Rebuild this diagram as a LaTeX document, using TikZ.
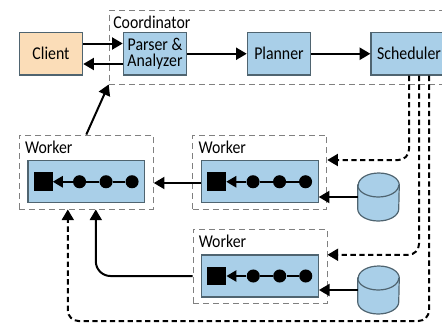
\documentclass[tikz,border=0pt]{standalone}
\usepackage{fontspec}
\setmainfont[FakeStretch=0.88]{Carlito}
\usetikzlibrary{calc,arrows.meta}

\definecolor{boxblue}{HTML}{A9CFE8}
\definecolor{boxorange}{HTML}{FBDDB8}
\definecolor{boxline}{HTML}{4F6470}
\definecolor{dashgray}{HTML}{808080}

\tikzset{
    stage/.style={draw=boxline,fill=boxblue,line width=0.9pt,minimum width=47.5pt,minimum height=32pt,inner sep=0pt,align=center,font=\fontsize{13.5}{12.5}\selectfont},
    group/.style={draw=dashgray,dashed,dash pattern=on 4.5pt off 3pt,line width=0.7pt},
    chainbox/.style={draw=boxline,fill=boxblue,line width=0.9pt,minimum height=31.5pt,inner sep=0pt},
    dot/.style={circle,fill=black,minimum size=9.8pt,inner sep=0pt},
    sink/.style={fill=black,minimum size=14.2pt,inner sep=0pt},
    store/.style={minimum width=30.75pt,minimum height=36pt,inner sep=0pt},
    storeline/.style={draw=boxline,line width=0.9pt},
    grouplabel/.style={font=\fontsize{13.5}{13.5}\selectfont,inner sep=0pt,anchor=west},
    flow/.style={line width=1.5pt,-{Triangle[length=8pt,width=9pt]}},
    link/.style={line width=1.3pt},
    request/.style={flow,dash pattern=on 4pt off 2.6pt,rounded corners=8pt},
}

\begin{document}
\begin{tikzpicture}[x=0.75pt,y=-0.75pt]
    \useasboundingbox (0,0) rectangle (442,325);

    % coordinator
    \node[group,minimum width=263pt,minimum height=55.5pt,inner sep=0pt] (coordinator) at (284.5,47) {};
    \node[grouplabel] (coordinatorlabel) at (113,22) {Coordinator};
    \node[stage,fill=boxorange] (client) at (51,53.75) {Client};
    \node[stage] (parser) at (155,53.75) {Parser \&\\Analyzer};
    \node[stage] (planner) at (279,53.75) {Planner};
    \node[stage,minimum width=57pt] (scheduler) at (409,53.75) {Scheduler};

    % workers
    \foreach \w/\bx/\by in {a/86.3/181.75,b/259.8/181.75,c/260/276}{
        \node[group,minimum width=100.5pt,minimum height=55.5pt,inner sep=0pt] (frame\w) at (\bx,\by-9.75) {};
        \node[grouplabel] (label\w) at (\bx-61.5,\by-34.5) {Worker};
        \node[chainbox,minimum width=87.5pt] (inner\w) at (\bx,\by) {};
        \node[sink] (sink\w) at (\bx-43.25,\by) {};
        \node[dot] (dot\w i) at (\bx-6.75,\by) {};
        \node[dot] (dot\w ii) at (\bx+19.75,\by) {};
        \node[dot] (dot\w iii) at (\bx+45.75,\by) {};
        \draw[link] (dot\w iii) -- (dot\w ii);
        \draw[link] (dot\w ii) -- (dot\w i);
        \draw[link,-{Triangle[length=7.5pt,width=8.5pt]}] (dot\w i) -- (sink\w);
    }

    % storage
    \foreach \s/\sy in {b/197,c/290}{
        \node[store] (store\s) at (378.5,\sy) {};
        \draw[storeline,fill=boxblue] ($(store\s.west)+(0,-12)$) -- ($(store\s.west)+(0,12)$)
            arc[start angle=180,end angle=360,x radius=15.375pt,y radius=9pt]
            -- ($(store\s.east)+(0,-12)$)
            arc[start angle=0,end angle=180,x radius=15.375pt,y radius=9pt] -- cycle;
        \draw[storeline] ($(store\s.west)+(0,-12)$)
            arc[start angle=180,end angle=360,x radius=15.375pt,y radius=9pt];
    }

    % solid arrows
    \draw[flow] ($(client.east)+(0,-10.25)$) -- ($(parser.west)+(0,-10.25)$);
    \draw[flow] ($(parser.west)+(0,10.25)$) -- ($(client.east)+(0,10.25)$);
    \draw[flow] (parser) -- (planner);
    \draw[flow] (planner) -- (scheduler);
    \draw[flow] (framea.north) -- (coordinator.south west);
    \draw[flow] ($(innerb.west)+(0,1.25)$) -- ($(framea.east |- innerb.west)+(0,1.25)$);
    \draw[flow,rounded corners=11pt] (framec.west |- innerc.west) -| ($(framea.south)+(9.5,0)$);
    \draw[flow] (storeb.west) -- (innerb.east |- storeb.west);
    \draw[flow] (storec.west) -- (innerc.east |- storec.west);

    % dashed requests
    \coordinate (busc) at (250,321);
    \draw[request] (scheduler.south) |- ($(frameb.east)+(0,-12)$);
    \draw[request] ($(scheduler.south)+(10,0)$) |- ($(framec.east)+(0,-11.5)$);
    \draw[request] ($(scheduler.south)+(20,0)$) |- (busc) -| ($(framea.south)+(-18.5,0)$);
\end{tikzpicture}
\end{document}
